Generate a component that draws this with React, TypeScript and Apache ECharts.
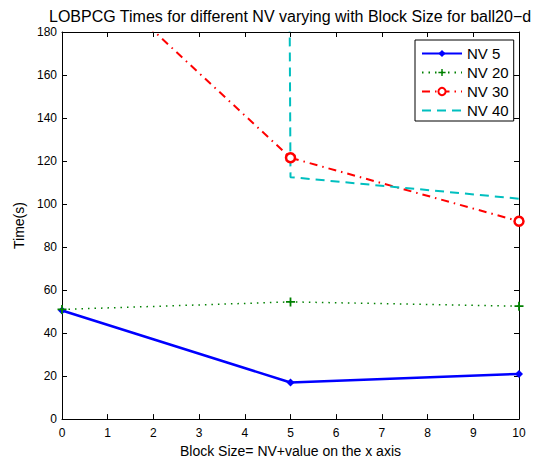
import React, { useEffect, useRef } from "react";
import * as echarts from "echarts";

const xValues = [0, 5, 10];
const nv5 = [50.5, 17, 21];
const nv20 = [51, 54.5, 52.5];
const nv30 = [220, 121.5, 92];
const nv40 = [20000, 112.5, 102.5];
const xTicks = [0, 1, 2, 3, 4, 5, 6, 7, 8, 9, 10];

const FONT = "Liberation Sans, Arial, Helvetica, sans-serif";

const pair = (ys: number[]) => xValues.map((x, i) => [x, ys[i]]);

export default function App() {
  const ref = useRef<HTMLDivElement>(null);
  useEffect(() => {
    if (!ref.current) return;
    const chart = echarts.init(ref.current, null, { renderer: "svg" });
    const axisCommon = {
      type: "value" as const,
      axisLine: { show: true, onZero: false, lineStyle: { color: "#000", width: 1 } },
      axisTick: { show: true, inside: true, length: 5, lineStyle: { color: "#000" } },
      splitLine: { show: false },
      axisLabel: { color: "#000", fontFamily: FONT, fontSize: 12 },
    };
    chart.setOption({
      animation: false,
      backgroundColor: "#fff",
      title: {
        text: "LOBPCG Times for different NV varying with Block Size for ball20\u2212d",
        left: 44,
        top: 3,
        textStyle: { fontFamily: FONT, fontSize: 16, fontWeight: "normal", color: "#000" },
      },
      grid: { left: 62, right: 20, top: 32, bottom: 40, containLabel: false },
      legend: {
        orient: "vertical",
        left: 415,
        top: 40,
        backgroundColor: "#fff",
        borderColor: "#000",
        borderWidth: 1,
        borderRadius: 0,
        padding: [6, 5, 3, 6],
        itemGap: 4,
        itemWidth: 40,
        itemHeight: 9,
        textStyle: { fontFamily: FONT, fontSize: 15, color: "#000", padding: [0, 0, 0, 0] },
        data: [
          { name: "NV 5" },
          { name: "NV 20" },
          { name: "NV 30" },
          { name: "NV 40", itemStyle: { color: "transparent", borderWidth: 0, opacity: 0 } },
        ],
      },
      xAxis: [
        {
          ...axisCommon,
          min: 0,
          max: 10,
          interval: 1,
          name: "Block Size= NV+value on the x axis",
          nameLocation: "middle",
          nameGap: 23,
          nameTextStyle: { fontFamily: FONT, fontSize: 14, color: "#000" },
          axisLabel: { ...axisCommon.axisLabel, margin: 8, formatter: (v: number) => (xTicks.includes(v) ? String(v) : "") },
        },
        {
          ...axisCommon,
          position: "top",
          min: 0,
          max: 10,
          interval: 1,
          axisLabel: { show: false },
        },
      ],
      yAxis: [
        {
          ...axisCommon,
          min: 0,
          max: 180,
          interval: 20,
          name: "Time(s)",
          nameLocation: "middle",
          nameGap: 30,
          nameTextStyle: { fontFamily: FONT, fontSize: 14, color: "#000" },
          axisLabel: { ...axisCommon.axisLabel, margin: 5 },
        },
        {
          ...axisCommon,
          position: "right",
          min: 0,
          max: 180,
          interval: 20,
          axisLabel: { show: false },
        },
      ],
      series: [
        {
          name: "NV 5",
          type: "line",
          data: pair(nv5),
          color: "#0000ff",
          lineStyle: { color: "#0000ff", width: 2.5 },
          symbol: "diamond",
          symbolSize: 8,
          itemStyle: { color: "#0000ff" },
          clip: true,
        },
        {
          name: "NV 20",
          type: "line",
          data: pair(nv20),
          color: "#008000",
          lineStyle: { color: "#008000", width: 1.5, type: [1.5, 5] },
          symbol: "path://M4,0h2v4h4v2h-4v4h-2v-4h-4v-2h4z",
          symbolSize: 9,
          itemStyle: { color: "#008000" },
          clip: true,
        },
        {
          name: "NV 30",
          type: "line",
          data: pair(nv30),
          color: "#ff0000",
          lineStyle: { color: "#ff0000", width: 2, type: [8, 5, 1.5, 5] },
          symbol: "circle",
          symbolSize: 9,
          itemStyle: { color: "#fff", borderColor: "#ff0000", borderWidth: 2.5 },
          clip: true,
        },
        {
          name: "NV 40",
          type: "line",
          data: pair(nv40),
          color: "#00bfbf",
          lineStyle: { color: "#00bfbf", width: 2, type: [9, 6] },
          symbol: "none",
          showSymbol: false,
          clip: true,
        },
      ],
    });
    return () => chart.dispose();
  }, []);
  return <div ref={ref} style={{ width: 539, height: 463, position: "absolute", left: 0, top: 0 }} />;
}
